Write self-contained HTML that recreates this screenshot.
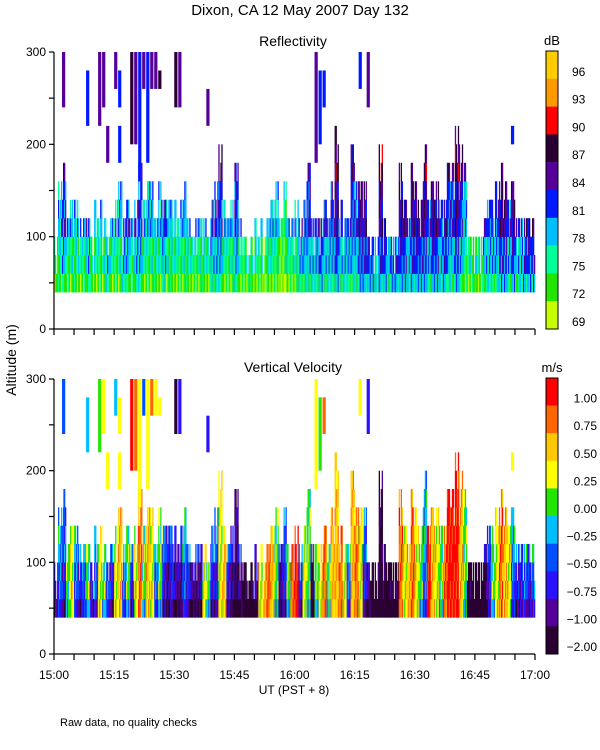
<!DOCTYPE html>
<html><head><meta charset="utf-8"><style>
body{margin:0;background:#fff}
svg{display:block;font-family:"Liberation Sans",sans-serif}
</style></head><body>
<svg id="c" width="600" height="750" viewBox="0 0 600 750" xmlns="http://www.w3.org/2000/svg">
<text x="300" y="15" text-anchor="middle" font-size="15">Dixon, CA 12 May 2007  Day 132</text>
<text x="293" y="46" text-anchor="middle" font-size="14">Reflectivity</text>
<text x="293" y="372" text-anchor="middle" font-size="14">Vertical Velocity</text>
<text x="16" y="360" text-anchor="middle" font-size="14" transform="rotate(-90 16 360)">Altitude (m)</text>
<text x="294" y="694" text-anchor="middle" font-size="12">UT  (PST + 8)</text>
<text x="60" y="726" font-size="11">Raw data, no quality checks</text>
<g id="plots"></g>
</svg>
<script>
// ---- data ----
const minutes = 120;
const echoTops = [100,160,180,120,140,140,120,120,120,100,140,140,120,100,120,140,160,120,140,120,
140,180,140,160,160,120,160,140,140,140,140,140,160,120,100,120,120,120,100,140,
160,200,140,120,140,180,120,100,80,100,120,120,100,120,140,160,120,160,120,120,
140,120,140,180,120,120,120,140,120,160,220,140,120,120,200,160,160,160,100,100,
100,200,120,100,100,100,180,140,120,180,160,140,200,140,160,160,140,140,180,180,
220,200,180,100,100,100,100,120,140,140,160,180,160,140,160,120,120,120,120,120];
const reflBase = [2,2,3,2,2,2,2,2,3,2,2,2,2,3,2,2,2,3,3,2,3,3,2,2,2,2,2,3,2,2,
2,2,2,2,2,2,2,2,2,3,3,3,2,2,2,3,2,2,2,2,2,2,1,2,2,2,1,1,2,2,
2,3,3,3,3,3,4,3,3,3,4,3,3,3,3,3,4,4,4,4,3,4,4,3,4,4,4,4,3,4,
4,4,4,3,4,4,3,4,3,3,4,3,2,2,2,2,2,3,3,3,3,4,4,3,4,3,3,4,4,4];
const velBase = [3,4,3,5,6,4,3,4,5,3,4,6,5,4,3,6,7,4,5,3,6,8,5,7,6,4,5,3,2,3,
2,2,4,3,2,2,2,6,5,3,3,6,7,3,2,1,2,1,0,1,2,6,7,8,7,5,2,3,5,8,
9,3,6,5,1,5,6,8,5,7,7,8,6,4,7,8,6,3,2,1,1,0,1,1,1,1,8,6,7,8,
6,5,4,9,7,6,5,8,9,9,9,7,5,1,0,0,0,1,3,5,6,8,7,6,4,3,3,4,3,4];
// [minute, bottom m, top m, reflectivity index, velocity index]
const streaks = [[2,240,300,5,3],[8,220,280,4,4],[11,220,300,5,5],[12,240,300,5,6],[13,180,220,5,6],
[15,260,300,5,4],[16,240,280,4,6],[16,180,220,4,6],[19,200,300,6,9],[20,200,300,5,8],
[21,160,300,4,6],[22,260,300,5,3],[23,180,300,4,6],[24,260,300,5,8],[25,260,300,5,6],
[26,260,280,6,6],[30,240,300,6,0],[31,240,300,5,2],[38,220,260,5,2],[65,180,300,5,6],
[66,200,280,4,5],[67,240,280,4,8],[76,260,300,4,6],[78,240,300,5,2],[114,200,220,4,6]];
const reflColors = ["#c8ff00","#22e600","#00ff99","#00bfff","#0019ff","#550099","#2a0033","#ff0000","#ff9900","#ffcc00"];
const reflLabels = ["69","72","75","78","81","84","87","90","93","96"];
const velColors = ["#2a0033","#550099","#2a12ff","#0050ff","#00bfff","#22e600","#ffff00","#ffc800","#ff6600","#ff0000"];
const velLabels = ["-2.00","-1.00","-0.75","-0.50","-0.25","0.00","0.25","0.50","0.75","1.00"];
const xTickLabels = ["15:00","15:15","15:30","15:45","16:00","16:15","16:30","16:45","17:00"];
const yTicks = [0,50,100,150,200,250,300];
const yLabels = [0,100,200,300];

const NS="http://www.w3.org/2000/svg";
const root=document.getElementById('plots');
function mk(tag,attrs,parent){const e=document.createElementNS(NS,tag);for(const k in attrs)e.setAttribute(k,attrs[k]);(parent||root).appendChild(e);return e;}
const X0=54,X1=535;
const xs=m=>X0+(X1-X0)*m/minutes;
const panels=[{y300:52,y0:329,colors:reflColors,labels:reflLabels,name:'reflectivity',unit:'dB'},
              {y300:379,y0:654,colors:velColors,labels:velLabels,name:'velocity',unit:'m/s'}];
const clamp=(v,a,b)=>Math.max(a,Math.min(b,v));
const jit=[-1,0,0,1];
const SUB=4;
panels.forEach((p,pi)=>{
  const ys=h=>p.y0+(p.y300-p.y0)*h/300;
  const g=mk('g',{});
  
  
  const w=(X1-X0)/minutes/SUB;
  for(let i=0;i<minutes;i++){
    for(let s=0;s<SUB;s++){
      const cut=((i*3+s*5)%4===1)?20:(((i+s)%5===2)?40:0);
      const top=Math.max(60,echoTops[i]-cut);
      for(let h=40;h<top;h+=20){
        const gi=(h-40)/20;
        const j=jit[(gi*5+i*3+s*7)%4];
        let idx;
        if(pi===0){ idx=clamp(reflBase[i]+j+Math.floor(gi/3)-(gi===0?1:0),0,7); }
        else {
          const b=velBase[i];
          const drop=(b<=4?(gi===0?2:(gi<=2?1:0)):(gi===0&&b<=5?1:0));
          idx=clamp(b+j-drop,0,9);
        }
        const r=mk('rect',{x:(xs(i)+s*w).toFixed(2),y:ys(h+20).toFixed(2),width:(w+0.3).toFixed(2),height:(ys(h)-ys(h+20)+0.3).toFixed(2),fill:p.colors[idx]},g);
        
        
      }
    }
  }
  streaks.forEach(st=>{
    const idx=pi===0?st[3]:st[4];
    const r=mk('rect',{x:xs(st[0]).toFixed(2),y:ys(st[2]).toFixed(2),width:((X1-X0)/minutes*0.8).toFixed(2),height:(ys(st[1])-ys(st[2])).toFixed(2),fill:p.colors[idx]},g);
    
    
  });
  const ax=mk('g',{stroke:'#000','stroke-width':1.2,fill:'none'});
  
  
  mk('line',{x1:X0,y1:p.y300,x2:X0,y2:p.y0},ax);
  mk('line',{x1:X0,y1:p.y0,x2:X1,y2:p.y0},ax);
  yTicks.forEach(v=>mk('line',{x1:X0-5,y1:ys(v),x2:X0,y2:ys(v)},ax));
  for(let m=0;m<=minutes;m+=5) mk('line',{x1:xs(m),y1:p.y0,x2:xs(m),y2:p.y0+6},ax);
  yLabels.forEach(v=>{const t=mk('text',{x:X0-8,y:ys(v)+4,'text-anchor':'end','font-size':12});t.textContent=v;
    
    });
  const cb=mk('g',{});
  
  
  const cTop=p.y300-1,cBot=p.y0,bh=(cBot-cTop)/10;
  for(let k=0;k<10;k++){
    const r=mk('rect',{x:546,y:(cTop+k*bh).toFixed(2),width:12,height:(bh+0.2).toFixed(2),fill:p.colors[9-k]},cb);
    
    
    const t=mk('text',{x:pi===0?572:597,y:(cTop+(k+1)*bh-3).toFixed(2),'font-size':12,'text-anchor':pi===0?'start':'end'},cb);
    t.textContent=p.labels[9-k].replace('-','\u2212');
    
    
  }
  mk('rect',{x:546,y:cTop,width:12,height:cBot-cTop,fill:'none',stroke:'#000','stroke-width':1},cb);
  const u=mk('text',{x:552,y:cTop-6,'text-anchor':'middle','font-size':13},cb);u.textContent=p.unit;
  
  
});
xTickLabels.forEach((l,k)=>{const t=mk('text',{x:xs(k*15),y:679,'text-anchor':'middle','font-size':12});t.textContent=l;
  
  });
</script>
</body></html>
